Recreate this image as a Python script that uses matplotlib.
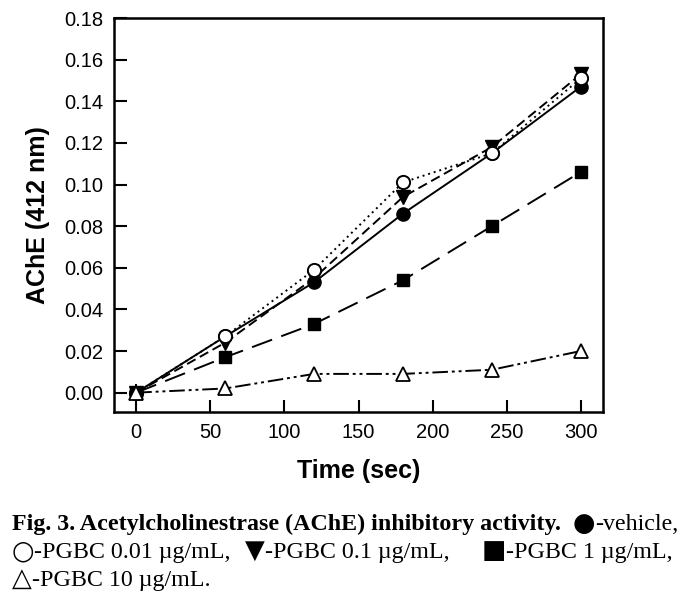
import matplotlib
matplotlib.use("Agg")
import matplotlib.pyplot as plt

time = [0, 60, 120, 180, 240, 300]
vehicle = [0.000, 0.027, 0.053, 0.086, 0.115, 0.147]
pgbc_001 = [0.000, 0.027, 0.059, 0.101, 0.115, 0.151]
pgbc_01 = [0.000, 0.024, 0.055, 0.094, 0.118, 0.153]
pgbc_1 = [0.000, 0.017, 0.033, 0.054, 0.080, 0.106]
pgbc_10 = [0.000, 0.002, 0.009, 0.009, 0.011, 0.020]
err_lower = [0.012, 0, 0, 0, 0, 0]
err_upper = [0.004, 0, 0, 0, 0, 0]

xticks = [0, 50, 100, 150, 200, 250, 300]
yticks = [0.00, 0.02, 0.04, 0.06, 0.08, 0.10, 0.12, 0.14, 0.16, 0.18]

W, H = 697, 597
fig = plt.figure(figsize=(W / 100, H / 100), dpi=100)
L, R, T, B = 114, 603, 18, 412
ax = fig.add_axes([L / W, 1 - B / H, (R - L) / W, (B - T) / H])

sans = ['Liberation Sans', 'DejaVu Sans']
lw = 1.4
ms = 9.5

ax.errorbar(time, vehicle, yerr=[err_lower, err_upper], fmt='none', ecolor='black',
            elinewidth=1.4, capsize=0, zorder=1)
ax.plot(time, vehicle, '-', color='black', lw=lw, marker='o', ms=ms,
        mfc='black', mec='black', zorder=2)
ax.plot(time, pgbc_01, color='black', lw=lw, dashes=(5, 2.5), marker='v', ms=ms + 1,
        mfc='black', mec='black', zorder=3)
ax.plot(time, pgbc_001, color='black', lw=lw, dashes=(1, 2), marker='o', ms=ms,
        mfc='white', mec='black', mew=1.4, zorder=4)
ax.plot(time, pgbc_1, color='black', lw=lw, dashes=(11, 5), marker='s', ms=ms - 0.5,
        mfc='black', mec='black', zorder=5)
ax.plot(time, pgbc_10, color='black', lw=lw, dashes=(8, 2, 1.5, 2, 1.5, 2), marker='^',
        ms=ms, mfc='white', mec='black', mew=1.3, zorder=6)

ax.set_xlim(-15, 315)
ax.set_ylim(-0.0093, 0.18)
ax.set_xticks(xticks)
ax.set_yticks(yticks)
ax.set_yticklabels([f"{v:.2f}" for v in yticks])
ax.tick_params(direction='in', length=9, width=1.5, labelsize=14.5, pad=8)
for lab in ax.get_xticklabels() + ax.get_yticklabels():
    lab.set_family(sans)
for s in ax.spines.values():
    s.set_linewidth(1.8)

ax.set_xlabel('Time (sec)', fontsize=18, fontweight='bold', family=sans, labelpad=12)
ax.set_ylabel('AChE (412 nm)', fontsize=18, fontweight='bold', family=sans, labelpad=10)

serif = ['Liberation Serif', 'DejaVu Sans']
fs = 17.3
sym_fs = 18.5
renderer = fig.canvas.get_renderer()


def ftext(x, y, s, **kw):
    kw.setdefault('fontsize', fs)
    return fig.text(x / W, 1 - y / H, s, va='baseline', **kw)


def width_px(t):
    bb = t.get_window_extent(renderer=renderer)
    return bb.width


def sym_piece(x, y, sym, s, sym_y_shift=0):
    t1 = ftext(x, y + sym_y_shift, sym, fontsize=sym_fs, family=['DejaVu Sans'])
    w = width_px(t1)
    t2 = ftext(x + w, y, s, family=serif)
    return x + w + width_px(t2)


ftext(12, 530, 'Fig. 3. Acetylcholinestrase (AChE) inhibitory activity.',
      fontweight='bold', family=serif)
sym_piece(573, 530, '\u25CF', '-vehicle,', 1)
sym_piece(12, 558, '\u25CB', '-PGBC 0.01 \u00B5g/mL,', 1)
sym_piece(245, 558, '\u25BC', '-PGBC 0.1 \u00B5g/mL,', 0)
sym_piece(482, 558, '\u25A0', '-PGBC 1 \u00B5g/mL,', 0)
sym_piece(12, 586, '\u25B3', '-PGBC 10 \u00B5g/mL.', 0)

fig.savefig('out.png', dpi=100)
